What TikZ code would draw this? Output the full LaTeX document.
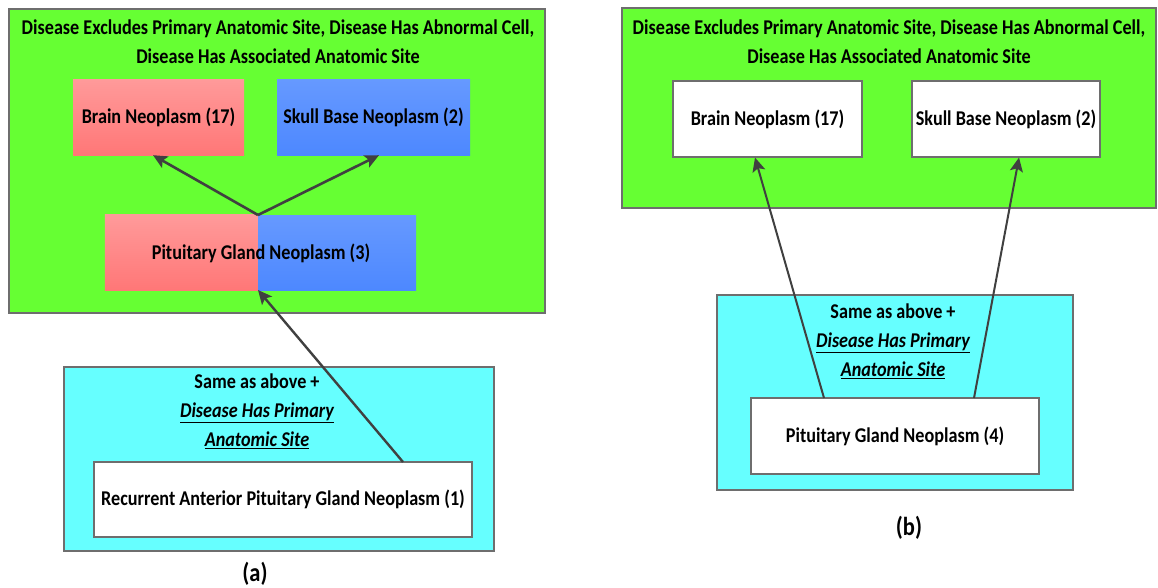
\documentclass[tikz,border=0pt]{standalone}
\usepackage{fontspec}
\setmainfont{Carlito}[FakeStretch=0.865]
\usetikzlibrary{arrows.meta,calc}

\definecolor{groupgreen}{HTML}{66FF33}
\definecolor{groupcyan}{HTML}{66FFFF}
\definecolor{edgegray}{HTML}{6E6E6E}
\definecolor{arrowgray}{HTML}{404040}
\definecolor{pinktop}{HTML}{FF9A9A}
\definecolor{pinkbot}{HTML}{FF7777}
\definecolor{bluetop}{HTML}{6699FF}
\definecolor{bluebot}{HTML}{4D88FF}

\newcommand\labelfont{\bfseries\fontsize{21}{29}\selectfont}
\newcommand\panelfont{\bfseries\fontsize{26}{30}\selectfont}

\tikzset{
  group/.style={draw=edgegray, line width=1.4pt, inner sep=0pt},
  greengroup/.style={group, fill=groupgreen},
  cyangroup/.style={group, fill=groupcyan},
  concept/.style={inner sep=0pt, font=\labelfont, align=center},
  whiteconcept/.style={concept, draw=edgegray, line width=1.1pt, fill=white},
  pinkconcept/.style={concept, top color=pinktop, bottom color=pinkbot},
  blueconcept/.style={concept, top color=bluetop, bottom color=bluebot},
  caption/.style={inner sep=0pt, font=\labelfont, align=center},
  panellabel/.style={inner sep=0pt, font=\panelfont},
  link/.style={draw=arrowgray, line width=2.6pt,
    -{Stealth[length=14pt,width=13pt,inset=3pt]}},
  thinlink/.style={link, line width=2pt},
}

\begin{document}
\begin{tikzpicture}[x=1pt,y=-1pt]
\useasboundingbox (0,0) rectangle (1158,587);

% ---------- (a) ----------
\node[greengroup, minimum width=536pt, minimum height=304pt] (grpA) at (277,161) {};
\node[caption] (titleA) at (278,41.5)
  {Disease Excludes Primary Anatomic Site, Disease Has Abnormal Cell,\\
   Disease Has Associated Anatomic Site};

\node[pinkconcept, minimum width=171pt, minimum height=76pt] (brainA) at (158.5,117) {Brain Neoplasm (17)};
\node[blueconcept, minimum width=193pt, minimum height=76pt] (skullA) at (373.5,117) {Skull Base Neoplasm (2)};

% pituitary box split into a pink and a blue half
\node[inner sep=0pt, minimum width=311pt, minimum height=75pt] (pitA) at (260.5,252.5) {};
\coordinate (splitTop) at (258,215);
\coordinate (splitBot) at (258,290);
\shade[top color=pinktop, bottom color=pinkbot] (pitA.north west) rectangle (splitBot);
\shade[top color=bluetop, bottom color=bluebot] (splitTop) rectangle (pitA.south east);
\node[concept] (pitAtext) at (261,253) {Pituitary Gland Neoplasm (3)};

\node[cyangroup, minimum width=430pt, minimum height=184pt] (grpA2) at (279,459) {};
\node[caption] (sameA) at (257,411)
  {Same as above +\\ \underline{\itshape Disease Has Primary}\\ \underline{\itshape Anatomic Site}};
\node[whiteconcept, minimum width=378pt, minimum height=75pt] (recA) at (283,499.5)
  {Recurrent Anterior Pituitary Gland Neoplasm (1)};

\coordinate (recTop) at (403,462);
\draw[link] (splitTop) -- (brainA.south -| 153,0);
\draw[link] (splitTop) -- (skullA.south -| 379,0);
\draw[thinlink, line width=2.4pt] (recTop) -- (splitBot);

\node[panellabel] (capA) at (255,574) {(a)};

% ---------- (b) ----------
\node[greengroup, minimum width=534pt, minimum height=200pt] (grpB) at (889,108) {};
\node[caption] (titleB) at (889,42)
  {Disease Excludes Primary Anatomic Site, Disease Has Abnormal Cell,\\
   Disease Has Associated Anatomic Site};

\node[whiteconcept, minimum width=189pt, minimum height=76pt] (brainB) at (767.5,119) {Brain Neoplasm (17)};
\node[whiteconcept, minimum width=188pt, minimum height=76pt] (skullB) at (1006,119) {Skull Base Neoplasm (2)};

\node[cyangroup, minimum width=356pt, minimum height=195pt] (grpB2) at (895,392.5) {};
\node[caption] (sameB) at (893,341)
  {Same as above +\\ \underline{\itshape Disease Has Primary}\\ \underline{\itshape Anatomic Site}};
\node[whiteconcept, minimum width=288pt, minimum height=76pt] (pitB) at (895,436) {Pituitary Gland Neoplasm (4)};

\coordinate (pitBleft) at (824,398);
\coordinate (pitBright) at (974,398);
\draw[thinlink] (pitBleft) -- (brainB.south -| 755,0);
\draw[thinlink] (pitBright) -- (skullB.south -| 1019,0);

\node[panellabel] (capB) at (909,528) {(b)};
\end{tikzpicture}
\end{document}
